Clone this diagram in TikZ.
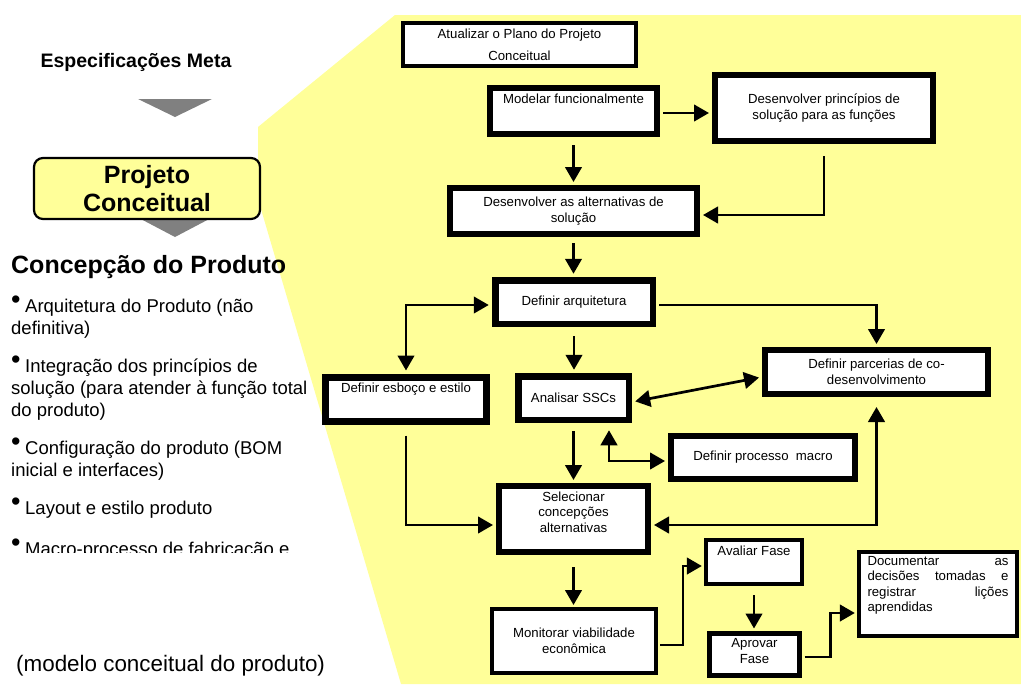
\documentclass[tikz,border=0pt]{standalone}
\usepackage{fontspec}
\setmainfont{Liberation Sans}
\usetikzlibrary{arrows.meta,calc}
\definecolor{paleyellow}{HTML}{FFFF99}
\definecolor{arrowgray}{HTML}{808080}
\newcommand\boxfont{\fontsize{13.2}{15.5}\selectfont}
\newcommand\dotitem{\makebox[14pt][l]{\raisebox{4pt}{\fontsize{27}{27}\selectfont •}}}
\begin{document}
\begin{tikzpicture}[x=1pt,y=-1pt,
  stage/.style={draw=black, fill=white, line width=#1, rectangle, inner sep=0pt,
    font=\boxfont, align=center},
  stage/.default=6pt,
  tip/.tip={Triangle[length=15pt,width=16.5pt]},
  flow/.style={line width=2.7pt, -tip},
  twoway/.style={line width=2.7pt, tip-tip},
  bullettext/.style={anchor=base west, inner sep=0pt, align=left,
    font=\fontsize{18.5}{22}\selectfont},
]
\useasboundingbox (0,0) rectangle (1021,686);

% yellow backdrop of the activity map
\fill[paleyellow] (395,15) -- (1021,15) -- (1021,684) -- (401,684)
  -- (258,199) -- (258,127) -- cycle;

% ---------- left column ----------
\node[font=\bfseries\fontsize{19.5}{23}\selectfont, anchor=base, inner sep=0pt]
  (spec) at (136,67.5) {Especificações Meta};
\fill[arrowgray] (138,99) -- (212,99) -- (175,117) -- cycle;
\fill[arrowgray] (137,217) -- (213,217) -- (175,237) -- cycle;
\node[draw=black, line width=2.2pt, fill=paleyellow, rounded corners=9pt,
  minimum width=226pt, minimum height=61pt, inner sep=0pt, align=center,
  font=\bfseries\fontsize{25}{28}\selectfont] (proj) at (147,188.5)
  {Projeto\\Conceitual};

\node[font=\bfseries\fontsize{25}{30}\selectfont, anchor=base west, inner sep=0pt]
  (conc) at (11,273) {Concepção do Produto};

% each bullet node is anchored at the baseline of its last line
\node[bullettext] (b1) at (11,334) {\dotitem Arquitetura do Produto (não\\definitiva)};
\node[bullettext] (b2) at (11,416) {\dotitem Integração dos princípios de\\solução (para atender à função total\\do produto)};
\node[bullettext] (b3) at (11,476) {\dotitem Configuração do produto (BOM\\inicial e interfaces)};
\node[bullettext] (b4) at (11,514) {\dotitem Layout e estilo produto};
\begin{scope}
  \clip (0,525) rectangle (400,552);
  \node[bullettext] (b5) at (11,555) {\dotitem Macro-processo de fabricação e};
\end{scope}

\node[anchor=base west, inner sep=0pt, font=\fontsize{22.4}{25}\selectfont]
  (model) at (16,671) {(modelo conceitual do produto)};

% ---------- activity boxes ----------
\node[stage=4pt, minimum width=233pt, minimum height=43pt,
  font=\fontsize{13.2}{22}\selectfont] (upd) at (519.5,44.5)
  {Atualizar o Plano do Projeto\\Conceitual};
\node[stage, minimum width=167pt, minimum height=46pt] (mod) at (573.5,111)
  {\parbox[c][46pt][t]{160pt}{\centering\rule{0pt}{15pt}Modelar funcionalmente}};
\node[stage, minimum width=218pt, minimum height=66pt] (prin) at (824,108)
  {Desenvolver princípios de\\solução para as funções};
\node[stage, minimum width=247pt, minimum height=46pt] (alt) at (573.5,211)
  {Desenvolver as alternativas de\\solução};
\node[stage=6.5pt, minimum width=157.5pt, minimum height=43.5pt] (arq) at (574,302)
  {Definir arquitetura};
\node[stage=7pt, minimum width=161pt, minimum height=44pt] (esb) at (406,399.5)
  {\parbox[c][44pt][t]{155pt}{\centering\rule{0pt}{14.5pt}Definir esboço e estilo}};
\node[stage=6.5pt, minimum width=110.5pt, minimum height=43.5pt] (ssc) at (573.5,398)
  {Analisar SSCs};
\node[stage, minimum width=223pt, minimum height=44pt] (par) at (876.5,372)
  {Definir parcerias de co-\\desenvolvimento};
\node[stage, minimum width=184pt, minimum height=43pt] (mac) at (763,457.5)
  {Definir processo\ \ macro};
\node[stage, minimum width=149pt, minimum height=66pt] (sel) at (573.5,519)
  {\parbox[c][66pt][t]{140pt}{\centering\rule{0pt}{15pt}Selecionar\\concepções\\alternativas}};
\node[stage=4pt, minimum width=164pt, minimum height=64pt] (mon) at (574,641)
  {Monitorar viabilidade\\econômica};
\node[stage=4.3pt, minimum width=95.7pt, minimum height=43.7pt] (ava) at (754,562)
  {\parbox[c][43.7pt][t]{90pt}{\centering\rule{0pt}{15pt}Avaliar Fase}};
\node[stage=5pt, minimum width=90pt, minimum height=42pt] (apr) at (754.5,654.5)
  {\parbox[c][42pt][t]{85pt}{\centering\rule{0pt}{14pt}Aprovar\\Fase}};
\node[stage=4.3pt, minimum width=157.7pt, minimum height=83.7pt,
  font=\fontsize{13.2}{15.3}\selectfont] (doc) at (938,594)
  {\parbox[c][83.7pt][t]{141pt}{\rule{0pt}{13.5pt}\makebox[141pt][s]{Documentar as}\\
   \makebox[141pt][s]{decisões tomadas e}\\
   \makebox[141pt][s]{registrar lições}\\
   aprendidas}};

% ---------- connectors ----------
\draw[flow, shorten <=8pt, shorten >=3pt] (mod.south) -- (mod.south |- alt.north);
\draw[flow, shorten <=3pt, shorten >=3pt] ([yshift=-2pt]mod.east) -- ([yshift=-2pt]mod.east -| prin.west);
\draw[flow, shorten >=3pt] ([yshift=-12pt]prin.south) |- ([yshift=-4pt]alt.east);
\draw[flow, shorten <=6pt, shorten >=3.25pt] (alt.south) -- (alt.south |- arq.north);
\draw[twoway, shorten <=3.25pt, shorten >=3.5pt] ([yshift=-3pt]arq.west) -| (esb.north);
\draw[flow, shorten <=3.25pt, shorten >=3pt] ([yshift=-3pt]arq.east) -| (par.north);
\draw[flow, shorten <=9pt, shorten >=3.25pt] (arq.south) -- (arq.south |- ssc.north);
\draw[twoway, shorten <=3.25pt, shorten >=3pt] ([yshift=-4pt]ssc.east) -- ([yshift=-5pt]par.west);
\draw[twoway, shorten <=7.25pt, shorten >=3pt] ([xshift=35.5pt]ssc.south) |- ([yshift=-3.5pt]mac.west);
\draw[flow, shorten <=8pt, shorten >=3pt] (ssc.south) -- (ssc.south |- sel.north);
\draw[flow, shorten <=10.5pt, shorten >=3pt] (esb.south) |- ([yshift=-6pt]sel.west);
\draw[twoway, shorten <=3pt, shorten >=10pt] ([yshift=-6pt]sel.east) -| (par.south);
\draw[flow, shorten <=12pt, shorten >=2pt] (sel.south) -- (sel.south |- mon.north);
\draw[flow, shorten <=2pt, shorten >=2.15pt] ([yshift=-4pt]mon.east) -- ++(25,0) |- ([yshift=-4pt]ava.west);
\draw[flow, shorten <=9pt, shorten >=2.5pt] (ava.south) -- (ava.south |- apr.north);
\draw[flow, shorten <=2.5pt, shorten >=2.15pt] ([yshift=-2.5pt]apr.east) -- ++(28.5,0) |- ([yshift=-19pt]doc.west);
\end{tikzpicture}
\end{document}
